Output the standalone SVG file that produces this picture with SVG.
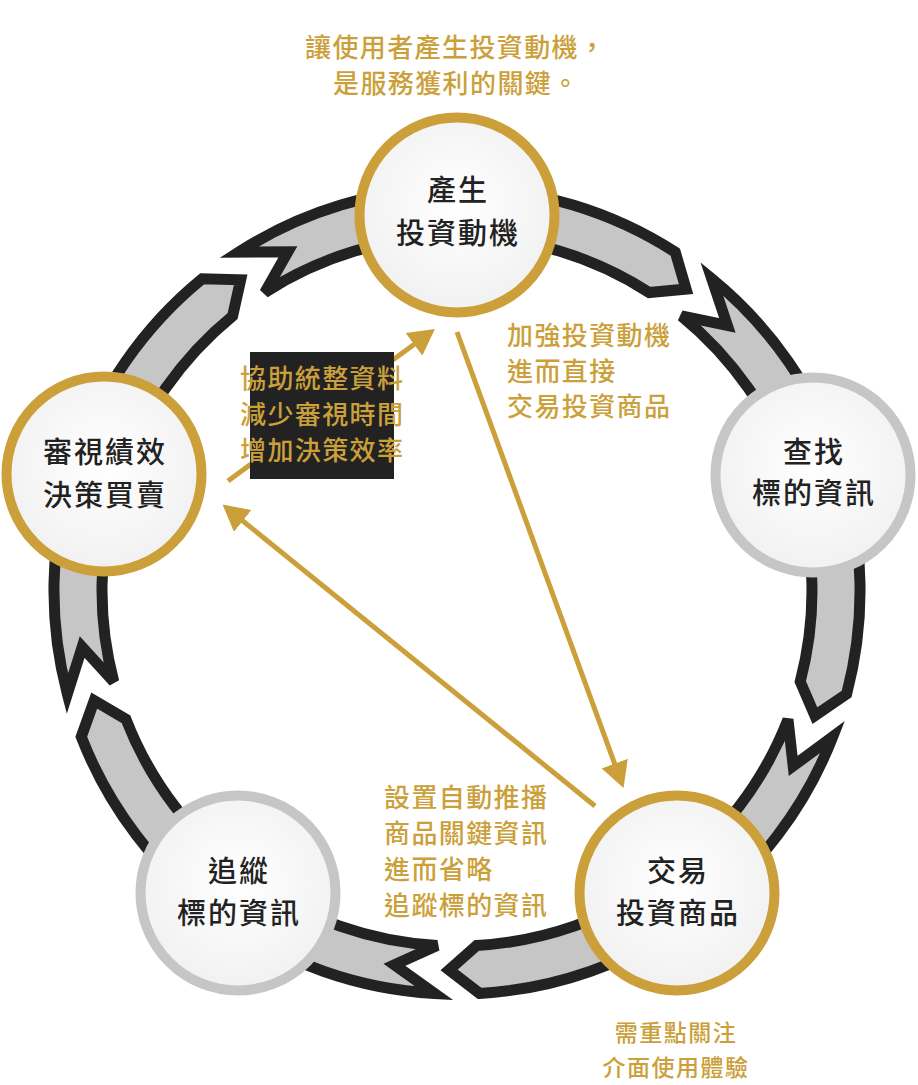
<svg xmlns="http://www.w3.org/2000/svg" width="918" height="1085" viewBox="0 0 918 1085">
<defs>
<style>
.seg{fill:#c6c6c6;stroke:#222;stroke-width:11;stroke-linejoin:miter}
.node{stroke-width:10}
.gold{stroke:#cba03a}
.gray{stroke:#c6c6c6}
.ntext{font-family:"Noto Sans CJK TC","Noto Sans CJK SC",sans-serif;font-size:29px;font-weight:500;fill:#222;text-anchor:middle;letter-spacing:2px}
.gtext{font-family:"Noto Sans CJK TC","Noto Sans CJK SC",sans-serif;font-size:26px;font-weight:500;fill:#cba03a;letter-spacing:1.4px}
.btext{font-family:"Noto Sans CJK TC","Noto Sans CJK SC",sans-serif;font-size:23px;font-weight:500;fill:#cba03a;letter-spacing:1.5px;text-anchor:middle}
.conn{stroke:#cba03a;stroke-width:5;fill:none}
</style>
<radialGradient id="cf" cx="50%" cy="45%" r="55%">
<stop offset="0" stop-color="#ffffff"/>
<stop offset="1" stop-color="#f1f1f1"/>
</radialGradient>
<marker id="ah" markerUnits="userSpaceOnUse" markerWidth="26" markerHeight="28" viewBox="0 0 26 28" refX="16" refY="14" orient="auto">
<path d="M0,0 L26,14 L0,28 Z" fill="#cba03a"/>
</marker>
<path id="seg" d="M238.7,252.2 A403,403 0 0 1 675.3,252.2 L686.1,289.1 L649.3,292.6 A355,355 0 0 0 264.7,292.6 L287.9,251.8 Z"/>
</defs>
<rect width="918" height="1085" fill="#ffffff"/>
<g id="ring">
<use href="#seg" class="seg"/>
<use href="#seg" class="seg" transform="rotate(72 457 591)"/>
<use href="#seg" class="seg" transform="rotate(144 457 591)"/>
<use href="#seg" class="seg" transform="rotate(216 457 591)"/>
<use href="#seg" class="seg" transform="rotate(288 457 591)"/>
</g>
<g id="connectors">
<line class="conn" x1="228" y1="481" x2="426.9" y2="334.9" marker-end="url(#ah)"/>
<line class="conn" x1="457" y1="332" x2="620.1" y2="778.6" marker-end="url(#ah)"/>
<line class="conn" x1="595" y1="806" x2="230.3" y2="510.8" marker-end="url(#ah)"/>
</g>
<g id="node-top">
<circle class="node gold" cx="457" cy="215" r="97.5" fill="url(#cf)"/>
<text class="ntext" x="458" y="201">產生</text>
<text class="ntext" x="458" y="244">投資動機</text>
</g>
<g id="node-right">
<circle class="node gray" cx="813" cy="475" r="97.5" fill="url(#cf)"/>
<text class="ntext" x="814" y="463">查找</text>
<text class="ntext" x="814" y="504">標的資訊</text>
</g>
<g id="node-bottom-right">
<circle class="node gold" cx="677" cy="893" r="97.5" fill="url(#cf)"/>
<text class="ntext" x="678" y="882">交易</text>
<text class="ntext" x="678" y="924">投資商品</text>
</g>
<g id="node-bottom-left">
<circle class="node gray" cx="238" cy="893" r="97.5" fill="url(#cf)"/>
<text class="ntext" x="239" y="882">追縱</text>
<text class="ntext" x="239" y="924">標的資訊</text>
</g>
<g id="node-left">
<circle class="node gold" cx="104" cy="474" r="97.5" fill="url(#cf)"/>
<text class="ntext" x="105" y="463">審視績效</text>
<text class="ntext" x="105" y="506">決策買賣</text>
</g>
<g id="labels">
<text class="gtext" x="305" y="57">讓使用者產生投資動機，</text>
<text class="gtext" x="333" y="93">是服務獲利的關鍵。</text>
<text class="gtext" x="507" y="345">加強投資動機</text>
<text class="gtext" x="507" y="380.5">進而直接</text>
<text class="gtext" x="507" y="416">交易投資商品</text>
<rect x="250" y="352" width="144" height="127" fill="#222"/>
<text class="gtext" x="240" y="388">協助統整資料</text>
<text class="gtext" x="240" y="424">減少審視時間</text>
<text class="gtext" x="240" y="460">增加決策效率</text>
<text class="gtext" x="384" y="807">設置自動推播</text>
<text class="gtext" x="384" y="843">商品關鍵資訊</text>
<text class="gtext" x="384" y="879">進而省略</text>
<text class="gtext" x="384" y="915">追蹤標的資訊</text>
<text class="btext" x="676" y="1041">需重點關注</text>
<text class="btext" x="676" y="1076">介面使用體驗</text>
</g>
</svg>
